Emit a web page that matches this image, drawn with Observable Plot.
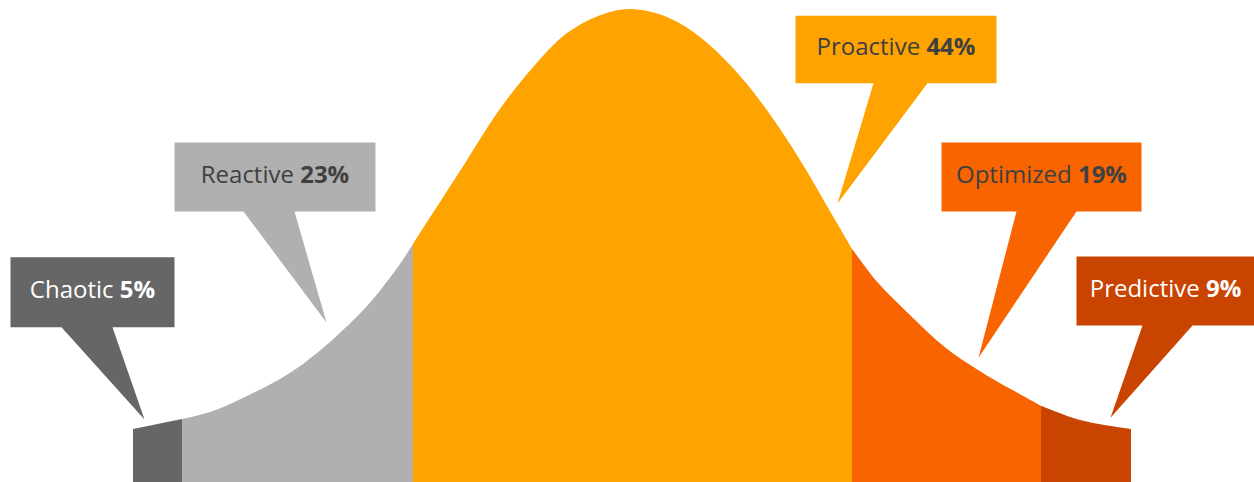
<!DOCTYPE html>
<html>
<head>
<meta charset="utf-8">
<script src="https://cdn.jsdelivr.net/npm/d3@7"></script>
<script src="https://cdn.jsdelivr.net/npm/@observablehq/plot@0.6"></script>
<style>
  html, body { margin: 0; padding: 0; background: #ffffff; }
  #chart svg { display: block; overflow: visible; }
</style>
</head>
<body>
<div id="chart"></div>
<script>
// ---- data ----
const categories = ["Chaotic", "Reactive", "Proactive", "Optimized", "Predictive"];
const shares = [5, 23, 44, 19, 9];
// segment boundaries along the maturity axis (standardised score)
const bounds = [-4.97, -4.48, -2.17, 2.22, 4.11, 5.01];
// bell curve: score vs. relative height (peak = 100)
const curveX = [-4.97, -4.48, -4.17, -3.83, -3.50, -3.30, -2.97, -2.63, -2.30, -2.17, -1.97, -1.63, -1.30, -0.97, -0.63, -0.30, 0,
                0.37, 0.70, 1.03, 1.37, 1.70, 2.03, 2.22, 2.48, 2.82, 3.15, 3.48, 3.82, 4.11, 4.50, 5.01];
const curveY = [11.2, 13.3, 15.0, 18.2, 21.8, 24.5, 30.2, 37.2, 46.1, 50.3, 56.9, 68.1, 78.9, 87.7, 94.9, 98.7, 100,
                98.3, 94.1, 87.5, 78.6, 68.1, 56.2, 49.3, 42.1, 34.9, 28.5, 23.7, 19.5, 16.1, 13.1, 11.2];

// ---- styles / layout ----
const colors = ["#666666", "#b0b0b0", "#ffa300", "#f86500", "#c84400"];
const textColors = ["#ffffff", "#404040", "#404040", "#404040", "#ffffff"];
// callout boxes and pointers, in chart units
const callouts = [
  {x1: -6.20, x2: -4.56, top: 47.6, bot: 32.8, b1: -5.69, b2: -5.18, tx: -4.86, ty: 13.3},
  {x1: -4.56, x2: -2.55, top: 71.9, bot: 57.3, b1: -3.87, b2: -3.36, tx: -3.04, ty: 33.8},
  {x1:  1.65, x2:  3.66, top: 98.7, bot: 84.4, b1:  2.43, b2:  2.97, tx:  2.07, ty: 59.0},
  {x1:  3.11, x2:  5.11, top: 71.9, bot: 57.3, b1:  3.86, b2:  4.46, tx:  3.48, ty: 26.4},
  {x1:  4.46, x2:  6.24, top: 47.8, bot: 33.2, b1:  5.12, b2:  5.62, tx:  4.80, ty: 13.7}
];

// ---- build tables ----
const curve = curveX.map((x, i) => ({x, y: curveY[i]}));
const segments = [];
categories.forEach((cat, i) => {
  curve.filter(p => p.x >= bounds[i] - 1e-9 && p.x <= bounds[i + 1] + 1e-9)
       .forEach(p => segments.push({cat, x: p.x, y: p.y}));
});

const calloutMarks = callouts.map((c, i) => {
  const poly = [
    {x: c.x1, y: c.top}, {x: c.x2, y: c.top}, {x: c.x2, y: c.bot},
    {x: c.b2, y: c.bot}, {x: c.tx, y: c.ty}, {x: c.b1, y: c.bot},
    {x: c.x1, y: c.bot}
  ];
  return Plot.line(poly, {x: "x", y: "y", fill: colors[i], stroke: "none", curve: "linear-closed"});
});

const labels = categories.map((cat, i) => ({
  cat, share: shares[i],
  x: (callouts[i].x1 + callouts[i].x2) / 2,
  y: (callouts[i].top + callouts[i].bot) / 2,
  color: textColors[i]
}));

const chart = Plot.plot({
  width: 1254,
  height: 482,
  margin: 0,
  x: {domain: [-6.30, 6.24], axis: null},
  y: {domain: [0, 101.9], axis: null},
  color: {domain: categories, range: colors},
  style: {fontFamily: "'Open Sans', 'Noto Sans', sans-serif", background: "#ffffff"},
  marks: [
    Plot.areaY(segments, {x: "x", y1: 0, y2: "y", z: "cat", fill: "cat", curve: "catmull-rom"}),
    ...calloutMarks,
    Plot.text(labels, {
      x: "x", y: "y",
      text: d => `${d.cat} ${d.share}%`,
      fill: d => d.color,
      fontSize: 24,
      textAnchor: "middle",
      dy: -2
    })
  ]
});

// mixed-weight labels: name regular, percentage bold
chart.querySelectorAll("text").forEach(t => {
  const d = labels.find(l => t.textContent === `${l.cat} ${l.share}%`);
  if (!d) return;
  t.textContent = "";
  t.appendChild(document.createTextNode(d.cat + " "));
  const b = document.createElementNS("http://www.w3.org/2000/svg", "tspan");
  b.setAttribute("font-weight", "bold");
  b.style.fontWeight = "700";
  b.textContent = d.share + "%";
  t.appendChild(b);
});

document.getElementById("chart").appendChild(chart);
</script>
</body>
</html>
